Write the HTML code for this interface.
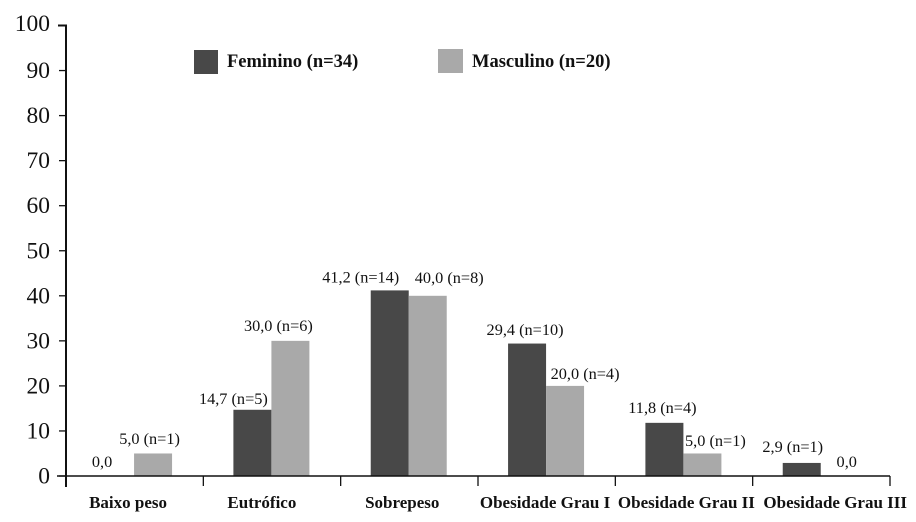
<!DOCTYPE html>
<html lang="pt">
<head>
<meta charset="utf-8">
<title>Estado nutricional por sexo</title>
<style>
html,body{margin:0;padding:0;background:#fff;}
body{width:916px;height:522px;overflow:hidden;}
svg{display:block;font-family:"Liberation Serif",serif;}
</style>
</head>
<body>
<svg id="chart" width="916" height="522" viewBox="0 0 916 522" xmlns="http://www.w3.org/2000/svg"></svg>
<script>
const categories = ['Baixo peso', 'Eutrófico', 'Sobrepeso', 'Obesidade Grau I', 'Obesidade Grau II', 'Obesidade Grau III'];
const yTicks = [0, 10, 20, 30, 40, 50, 60, 70, 80, 90, 100];
const femininoValues = [0, 14.7, 41.2, 29.4, 11.8, 2.9];
const femininoCounts = [null, 5, 14, 10, 4, 1];
const masculinoValues = [5, 30, 40, 20, 5, 0];
const masculinoCounts = [1, 6, 8, 4, 1, null];
const femininoName = 'Feminino (n=34)';
const masculinoName = 'Masculino (n=20)';

const NS = 'http://www.w3.org/2000/svg';
const svg = document.getElementById('chart');
const X0 = 66, X1 = 890, Y0 = 476, Y100 = 25.5, BAR = 38;
const DARK = '#484848', LIGHT = '#a9a9a9', INK = '#111';
const yScale = v => Y0 - (v / 100) * (Y0 - Y100);
const bandStart = i => X0 + (i * (X1 - X0)) / categories.length;
const bandCenter = i => bandStart(i + 0.5) - 0.6;

function node(tag, attrs, text) {
  const el = document.createElementNS(NS, tag);
  for (const k in attrs) el.setAttribute(k, attrs[k]);
  if (text !== undefined) el.textContent = text;
  svg.appendChild(el);
  return el;
}
function label(v, n) {
  const s = v.toFixed(1).replace('.', ',');
  return n === null ? s : s + ' (n=' + n + ')';
}

/* label nudges relative to the bar's centre and top */
const femNudge = [[-13, 9], [-19, 6], [-29, 8], [-2, 8.7], [-2, 10], [-9, 11]];
const mascNudge = [[-3.5, 9.5], [-12, 10], [21.5, 13], [20, 7], [13, 7.5], [7, 9]];
const categoryNudge = [-6, -9.5, -6.5, -1, 3, 14.5];

yTicks.forEach(t => {
  const y = yScale(t);
  const tick = node('line', {x1: t === 100 ? 58 : 59, x2: X0, y1: y, y2: y, stroke: INK, 'stroke-width': t === 100 ? 2 : 1.3});
  
  
  const lab = node('text', {x: 50, y: y + (t === 100 ? 5.5 : 7.5), 'text-anchor': 'end', 'font-size': 23.5, fill: INK}, String(t));
  
  
});

categories.forEach((c, i) => {
  const cx = bandCenter(i);
  const fh = yScale(0) - yScale(femininoValues[i]);
  const mh = yScale(0) - yScale(masculinoValues[i]);
  if (femininoValues[i] > 0) {
    const bar = node('rect', {x: cx - BAR, y: yScale(femininoValues[i]), width: BAR, height: fh, fill: DARK});
    
    
  }
  if (masculinoValues[i] > 0) {
    const bar = node('rect', {x: cx, y: yScale(masculinoValues[i]), width: BAR, height: mh, fill: LIGHT});
    
    
  }
  const fl = node('text', {x: cx - BAR / 2 + femNudge[i][0], y: yScale(femininoValues[i]) - femNudge[i][1], 'text-anchor': 'middle', 'font-size': 16.3, fill: INK}, label(femininoValues[i], femininoCounts[i]));
  
  
  const ml = node('text', {x: cx + BAR / 2 + mascNudge[i][0], y: yScale(masculinoValues[i]) - mascNudge[i][1], 'text-anchor': 'middle', 'font-size': 16.3, fill: INK}, label(masculinoValues[i], masculinoCounts[i]));
  
  
  const cl = node('text', {x: cx + categoryNudge[i], y: 508, 'text-anchor': 'middle', 'font-size': 17, 'font-weight': 'bold', fill: INK}, c);
  
  
});

for (let i = 0; i <= categories.length; i++) {
  const x = bandStart(i);
  const tick = node('line', {x1: x, x2: x, y1: Y0, y2: 486, stroke: INK, 'stroke-width': 1.3});
  
  
}

const xAxis = node('line', {x1: 57, x2: X1, y1: Y0, y2: Y0, stroke: INK, 'stroke-width': 1.5});


const yAxis = node('line', {x1: X0, x2: X0, y1: Y100 - 1, y2: 487, stroke: INK, 'stroke-width': 2});



const sw1 = node('rect', {x: 194, y: 50, width: 24, height: 24, fill: DARK});


const lt1 = node('text', {x: 227, y: 67, 'font-size': 18.5, 'font-weight': 'bold', fill: INK}, femininoName);


const sw2 = node('rect', {x: 438, y: 49, width: 25, height: 24, fill: LIGHT});


const lt2 = node('text', {x: 472, y: 67, 'font-size': 18.5, 'font-weight': 'bold', fill: INK}, masculinoName);


</script>
</body>
</html>
